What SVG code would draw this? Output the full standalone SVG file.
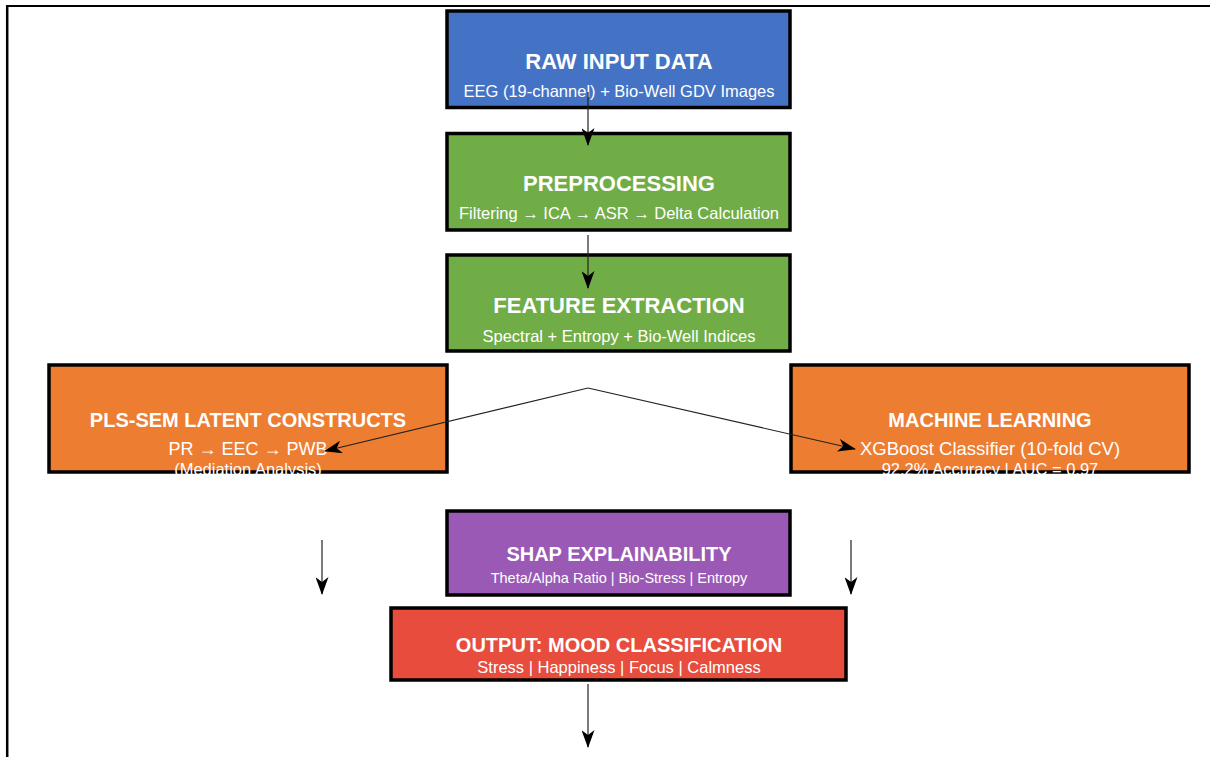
<svg xmlns="http://www.w3.org/2000/svg" width="1210" height="757" viewBox="0 0 1210 757">
<defs>
<style>
.box{stroke:#000;stroke-width:3.5}
.t{font-family:"Liberation Sans",Arial,Helvetica,sans-serif;fill:#fff;text-anchor:middle}
.b{font-weight:bold}
.c{fill:none;stroke:#222;stroke-width:1.2}
</style>
<marker id="ah" viewBox="0 0 18 13" refX="17" refY="6.5" markerWidth="18" markerHeight="13" markerUnits="userSpaceOnUse" orient="auto">
<path d="M0,0 L18,6.5 L0,13 L5,6.5 z" fill="#000"/>
</marker>
</defs>
<rect width="1210" height="757" fill="#fff"/>
<g id="frame">
<line x1="6" y1="6" x2="1210" y2="6" stroke="#000" stroke-width="2"/>
<line x1="7.2" y1="5" x2="7.2" y2="757" stroke="#000" stroke-width="2.5"/>
</g>
<g id="raw">
<rect class="box" x="447" y="11" width="343" height="96.5" fill="#4472C4"/>
<text class="t b" x="619" y="69" font-size="22">RAW INPUT DATA</text>
<text class="t" x="619" y="97" font-size="16.5">EEG (19-channel) + Bio-Well GDV Images</text>
</g>
<g id="preprocessing">
<rect class="box" x="447" y="133.5" width="343" height="96.5" fill="#70AD47"/>
<text class="t b" x="619" y="191" font-size="22">PREPROCESSING</text>
<text class="t" x="619" y="219" font-size="16.5">Filtering → ICA → ASR → Delta Calculation</text>
</g>
<g id="features">
<rect class="box" x="447" y="255" width="343" height="96" fill="#70AD47"/>
<text class="t b" x="619" y="313" font-size="22">FEATURE EXTRACTION</text>
<text class="t" x="619" y="342" font-size="16.5">Spectral + Entropy + Bio-Well Indices</text>
</g>
<g id="plssem">
<rect class="box" x="49" y="365" width="398" height="107" fill="#ED7D31"/>
<text class="t b" x="248" y="427" font-size="20">PLS-SEM LATENT CONSTRUCTS</text>
<text class="t" x="248" y="455" font-size="18">PR → EEC → PWB</text>
<text class="t" x="248" y="475" font-size="16.5">(Mediation Analysis)</text>
</g>
<g id="ml">
<rect class="box" x="791" y="365" width="398" height="107" fill="#ED7D31"/>
<text class="t b" x="990" y="427" font-size="20">MACHINE LEARNING</text>
<text class="t" x="990" y="455" font-size="18.5">XGBoost Classifier (10-fold CV)</text>
<text class="t" x="990" y="475" font-size="16.5">92.2% Accuracy | AUC = 0.97</text>
</g>
<g id="shap">
<rect class="box" x="447" y="511" width="343" height="84" fill="#9B59B6"/>
<text class="t b" x="619" y="561" font-size="20">SHAP EXPLAINABILITY</text>
<text class="t" x="619" y="583" font-size="14.5">Theta/Alpha Ratio | Bio-Stress | Entropy</text>
</g>
<g id="output">
<rect class="box" x="391" y="608" width="455" height="72" fill="#E74C3C"/>
<text class="t b" x="619" y="652" font-size="20">OUTPUT: MOOD CLASSIFICATION</text>
<text class="t" x="619" y="673" font-size="16.5">Stress | Happiness | Focus | Calmness</text>
</g>
<g id="connectors">
<line class="c" x1="588" y1="92" x2="588" y2="145" marker-end="url(#ah)"/>
<line class="c" x1="588" y1="235" x2="588" y2="288" marker-end="url(#ah)"/>
<polyline class="c" points="588,388 325,451" marker-end="url(#ah)"/>
<polyline class="c" points="588,388 855,449" marker-end="url(#ah)"/>
<line class="c" x1="322" y1="540" x2="322" y2="594" marker-end="url(#ah)"/>
<line class="c" x1="851" y1="540" x2="851" y2="594" marker-end="url(#ah)"/>
<line class="c" x1="588" y1="684" x2="588" y2="747" marker-end="url(#ah)"/>
</g>
</svg>
